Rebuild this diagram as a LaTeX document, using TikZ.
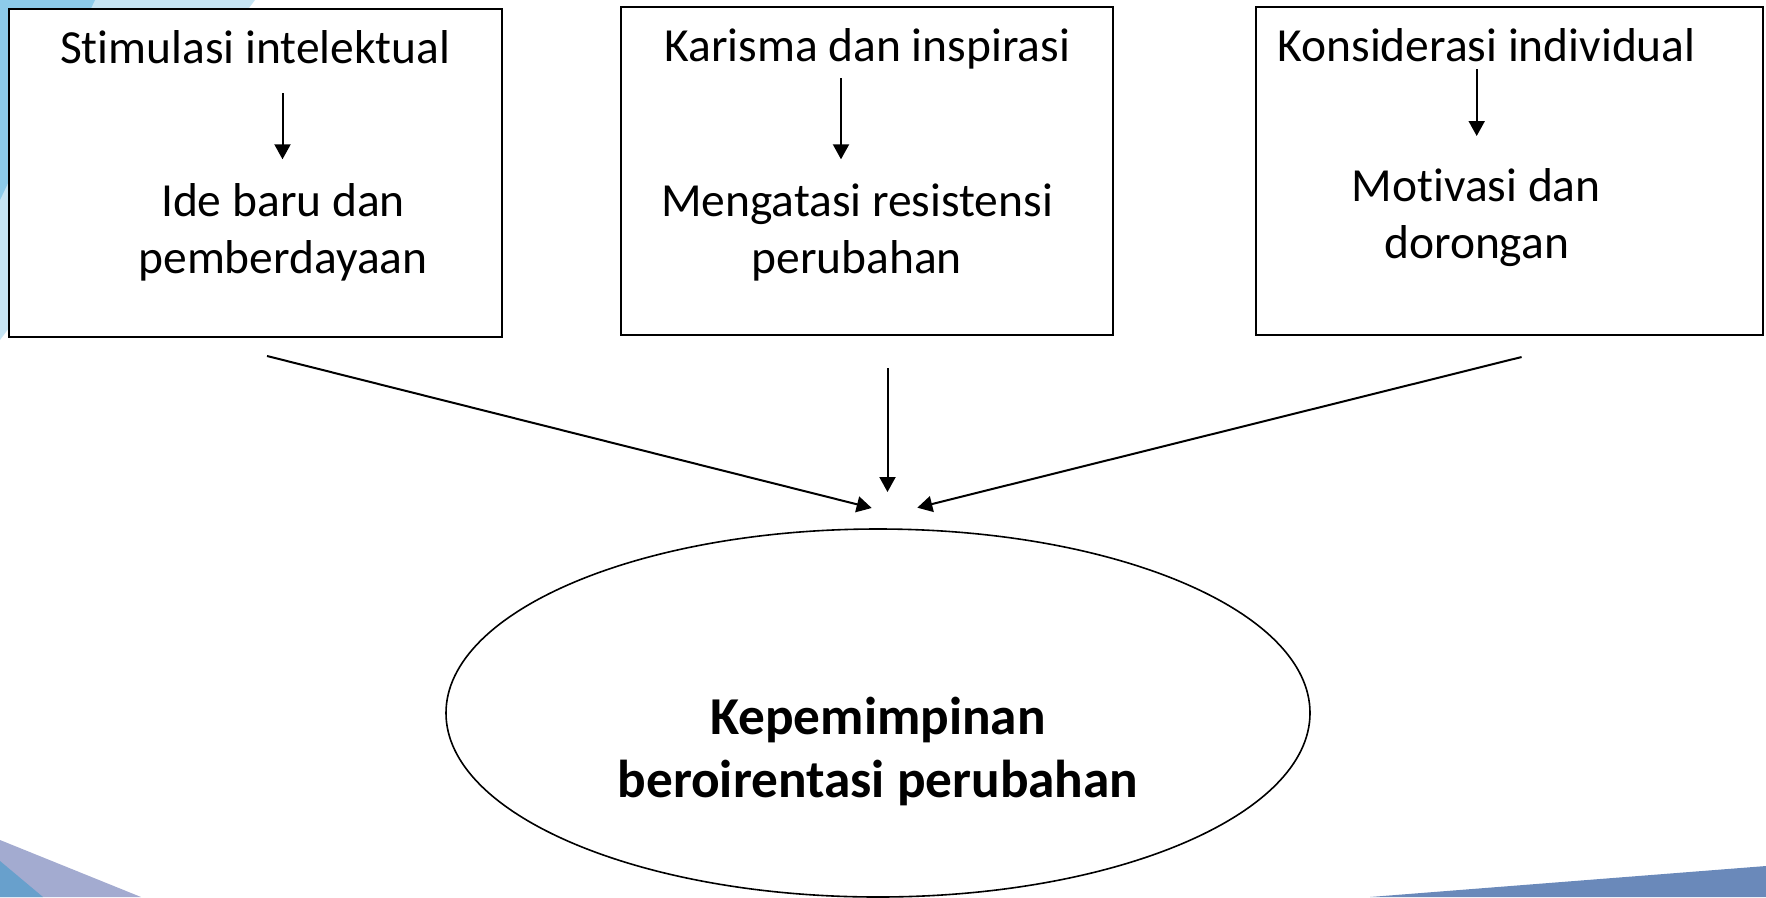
\documentclass[tikz,border=0pt]{standalone}
\usepackage{fontspec}
\setmainfont{Carlito}[RawFeature=-liga]
\usetikzlibrary{arrows.meta,shapes.geometric}
\definecolor{bgdark}{HTML}{8DCBEA}
\definecolor{bglight}{HTML}{C6E4F3}
\definecolor{lav}{HTML}{A3ABD0}
\definecolor{blbl}{HTML}{68A0CC}
\definecolor{brbl}{HTML}{6A89BA}
\tikzset{
  boxnode/.style={draw=black,line width=2pt,rectangle,inner sep=0pt,fill=white},
  txt/.style={anchor=base,inner sep=0pt,font=\fontsize{47.5}{57}\selectfont},
  btxt/.style={anchor=base,inner sep=0pt,font=\fontsize{53.3}{63}\selectfont\bfseries},
  arr/.style={line width=2pt,-{Triangle[length=15pt,width=16pt]}},
  goalnode/.style={draw=black,line width=1.6pt,ellipse,inner sep=0pt}
}
\begin{document}
\begin{tikzpicture}[x=1pt,y=-1pt]
\useasboundingbox (0,0) rectangle (1766,897);
\clip (0,0) rectangle (1766,897);
% background decorations
\fill[bglight] (0,0) -- (255,0) -- (0,340) -- cycle;
\fill[bgdark] (0,0) -- (95,0) -- (0,200) -- cycle;
\fill[lav] (0,840) -- (141,897) -- (0,897) -- cycle;
\fill[blbl] (0,861) -- (43,897) -- (0,897) -- cycle;
\fill[brbl] (1370,897) -- (1766,866) -- (1766,897) -- cycle;
% boxes
\node[boxnode,minimum width=493pt,minimum height=328.3pt] (box1) at (255.8,173.2) {};
\node[boxnode,minimum width=492.3pt,minimum height=327.7pt] (box2) at (867.2,171.2) {};
\node[boxnode,minimum width=506.7pt,minimum height=327.7pt] (box3) at (1509.4,171.2) {};
% texts box 1
\node[txt] (s1) at (255.3,63.3) {Stimulasi intelektual};
\node[txt] (r1a) at (283,216) {Ide baru dan};
\node[txt] (r1b) at (283,273) {pemberdayaan};
% texts box 2
\node[txt] (s2) at (867.2,61.7) {Karisma dan inspirasi};
\node[txt] (r2a) at (857,216) {Mengatasi resistensi};
\node[txt] (r2b) at (856.7,273.3) {perubahan};
% texts box 3
\node[txt] (s3) at (1486.7,61.7) {Konsiderasi individual};
\node[txt] (r3a) at (1476.3,201.7) {Motivasi dan};
\node[txt] (r3b) at (1476.7,258.3) {dorongan};
% ellipse
\node[goalnode,minimum width=864pt,minimum height=368pt] (goal) at (878,713) {};
\node[btxt] (g1) at (878,734.5) {Kepemimpinan};
\node[btxt] (g2) at (878,797.5) {beroirentasi perubahan};
% inner arrow coordinates
\coordinate (a1s) at (282.5,93);
\coordinate (a1e) at (282.5,159.3);
\coordinate (a2s) at (841,78);
\coordinate (a2e) at (841,159.3);
\coordinate (a3s) at (1476.7,69);
\coordinate (a3e) at (1476.7,136);
\draw[arr] (a1s) -- (a1e);
\draw[arr] (a2s) -- (a2e);
\draw[arr] (a3s) -- (a3e);
% big arrows
\coordinate (L1) at (267,356);
\coordinate (L2) at (871.7,508);
\coordinate (M1) at (887.5,368);
\coordinate (M2) at (887.5,492);
\coordinate (R1) at (1521.6,357);
\coordinate (R2) at (917.3,507.7);
\draw[arr] (L1) -- (L2);
\draw[arr] (M1) -- (M2);
\draw[arr] (R1) -- (R2);
\end{tikzpicture}
\end{document}
